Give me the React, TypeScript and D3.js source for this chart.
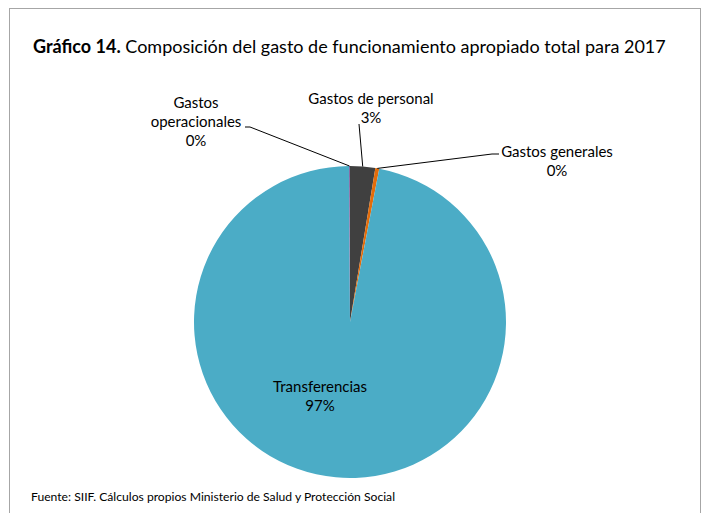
import React, { useEffect, useRef } from "react";
import * as d3 from "d3";

// composición del gasto de funcionamiento 2017 (% del total)
const categories = ["Gastos de personal", "Gastos generales", "Transferencias", "Gastos operacionales"];
const values = [2.6, 0.4, 96.9, 0.1];
const pctLabels = ["3%", "0%", "97%", "0%"];
const colors = ["#404040", "#E46C0A", "#4BACC6", "#8064A2"];

const W = 709;
const H = 513;
const FONT = "Lato, 'Open Sans', sans-serif";

const App: React.FC = () => {
    const svgRef = useRef<SVGSVGElement>(null);

    useEffect(() => {
        if (!svgRef.current) return;
        const svg = d3.select(svgRef.current);
        svg.selectAll("*").remove();

        // marco del gráfico
        svg.append("rect")
            .attr("x", 9.5)
            .attr("y", 8.5)
            .attr("width", 691)
            .attr("height", 530)
            .attr("fill", "#fff")
            .attr("stroke", "#a6a6a6")
            .attr("stroke-width", 1);

        // título
        const title = svg.append("text")
            .attr("x", 33)
            .attr("y", 53)
            .attr("font-family", FONT)
            .attr("font-size", 18)
            .attr("fill", "#000");
        title.append("tspan").attr("font-weight", "bold").text("Gráfico 14.");
        title.append("tspan").text(" Composición del gasto de funcionamiento apropiado total para 2017");

        const cx = 350;
        const cy = 322;
        const r = 156;

        const pie = d3.pie<number>().sort(null).value((d) => d);
        const arcs = pie(values);
        const arc = d3.arc<d3.PieArcDatum<number>>().innerRadius(0).outerRadius(r);
        const edge = d3.arc<d3.PieArcDatum<number>>().innerRadius(r).outerRadius(r);

        const g = svg.append("g").attr("transform", `translate(${cx},${cy})`);

        g.selectAll("path")
            .data(arcs)
            .join("path")
            .attr("d", arc)
            .attr("fill", (_, i) => colors[i])
            .attr("stroke", "none");

        // posiciones de etiquetas relativas al centro
        const labelPos = [
            { x: 21, y: -218, line: [[9, -198]] },
            { x: 207, y: -165, line: [[142, -168], [149, -168]] },
            { x: -30, y: 70, line: null },
            { x: -154, y: -214, line: [[-100, -195], [-105, -195]] },
        ];

        arcs.forEach((a, i) => {
            const lp = labelPos[i];
            if (lp.line) {
                const [ex, ey] = edge.centroid(a);
                const pts: [number, number][] = [[ex, ey], ...(lp.line as [number, number][])];
                g.append("path")
                    .attr("d", d3.line()(pts))
                    .attr("fill", "none")
                    .attr("stroke", "#000")
                    .attr("stroke-width", 1);
            }
            const words = i === 3 ? ["Gastos", "operacionales"] : [categories[i]];
            const t = g.append("text")
                .attr("font-family", FONT)
                .attr("font-size", 15)
                .attr("fill", "#000")
                .attr("text-anchor", "middle");
            words.forEach((w, k) => {
                t.append("tspan").attr("x", lp.x).attr("y", lp.y + k * 19).text(w);
            });
            t.append("tspan")
                .attr("x", lp.x)
                .attr("y", lp.y + words.length * 19)
                .text(pctLabels[i]);
        });

        // fuente
        svg.append("text")
            .attr("x", 31)
            .attr("y", 501)
            .attr("font-family", FONT)
            .attr("font-size", 12)
            .attr("textLength", 364)
            .attr("lengthAdjust", "spacingAndGlyphs")
            .attr("fill", "#000")
            .text("Fuente: SIIF. Cálculos propios Ministerio de Salud y Protección Social");
    }, []);

    return (
        <svg
            ref={svgRef}
            width={W}
            height={H}
            style={{ position: "absolute", left: 0, top: 0, display: "block" }}
        ></svg>
    );
};

export default App;
